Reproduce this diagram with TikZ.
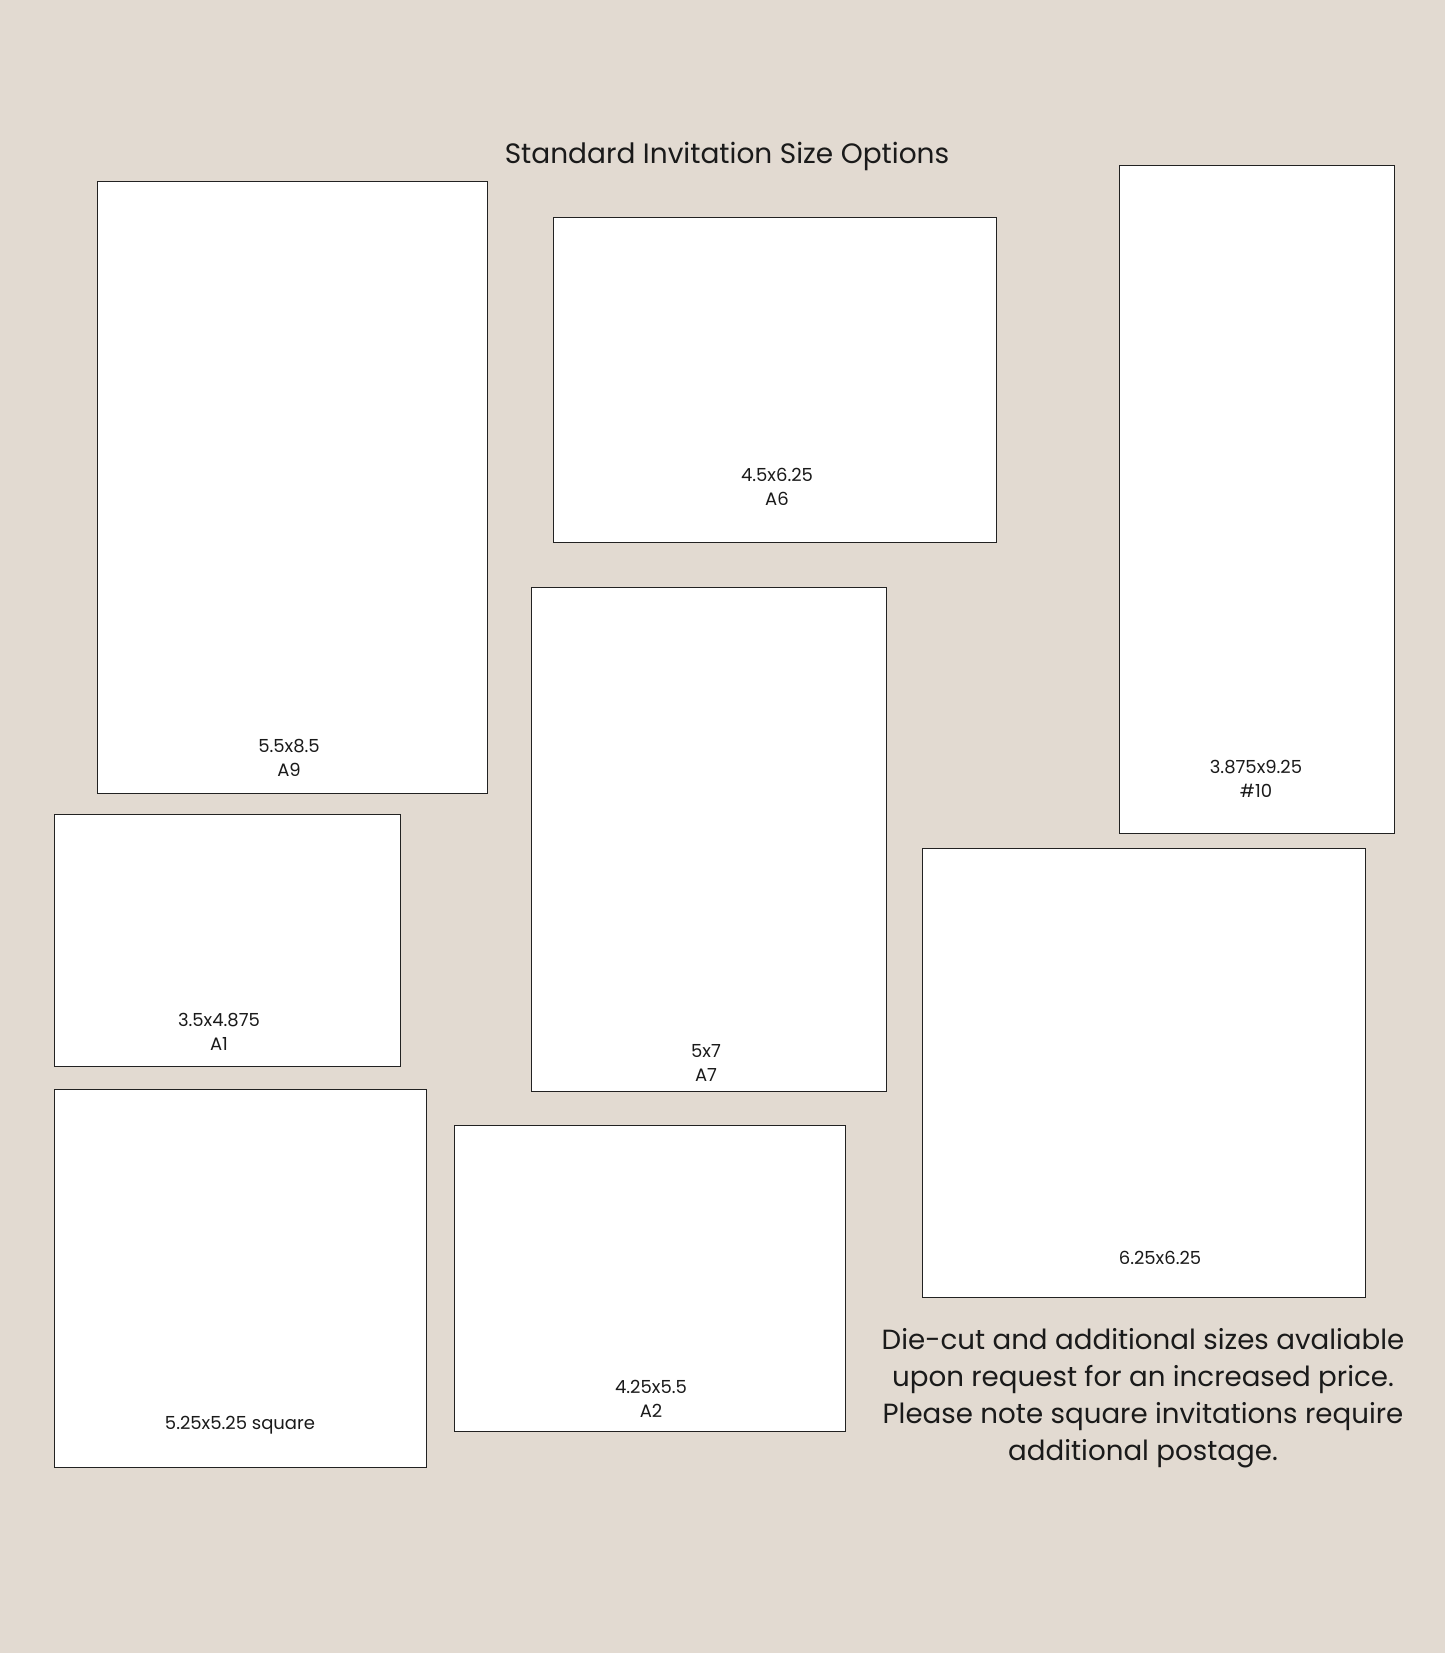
\documentclass[tikz,border=0pt]{standalone}
\usepackage{fontspec}
\setmainfont{Poppins}
\definecolor{bg}{HTML}{E2DAD1}
\definecolor{edge}{HTML}{222222}
\definecolor{ink}{HTML}{1A1A1A}
\begin{document}
\begin{tikzpicture}[x=1pt,y=-1pt,
  card/.style={draw=edge,fill=white,line width=1.4pt,inner sep=0pt,anchor=north west},
  lbl/.style={text=ink,font=\fontsize{18}{23.5}\selectfont,align=center,inner sep=0pt},
  ttl/.style={text=ink,font=\fontsize{28}{32}\selectfont,inner sep=0pt},
  para/.style={text=ink,font=\fontsize{27.7}{37}\selectfont,align=center,inner sep=0pt}]
\fill[bg] (0,0) rectangle (1445,1653);
\useasboundingbox (0,0) rectangle (1445,1653);
\node[ttl] (title) at (727,156) {Standard Invitation Size Options};
\node[card,minimum width=390pt,minimum height=612pt] (a9) at (97,181) {};
\node[card,minimum width=443pt,minimum height=325pt] (a6) at (553,217) {};
\node[card,minimum width=275pt,minimum height=668pt] (n10) at (1119,165) {};
\node[card,minimum width=346pt,minimum height=252pt] (a1) at (54,814) {};
\node[card,minimum width=355pt,minimum height=504pt] (a7) at (531,587) {};
\node[card,minimum width=443pt,minimum height=449pt] (s6) at (922,848) {};
\node[card,minimum width=372pt,minimum height=378pt] (s5) at (54,1089) {};
\node[card,minimum width=391pt,minimum height=306pt] (a2) at (454,1125) {};
\node[lbl] (la9) at (289,758) {5.5x8.5\\A9};
\node[lbl] (la6) at (777,487) {4.5x6.25\\A6};
\node[lbl] (ln10) at (1256,779) {3.875x9.25\\\#10};
\node[lbl] (la1) at (219,1032) {3.5x4.875\\A1};
\node[lbl] (la7) at (706,1063) {5x7\\A7};
\node[lbl] (ls6) at (1160,1258) {6.25x6.25};
\node[lbl] (ls5) at (240,1425) {5.25x5.25 square};
\node[lbl] (la2) at (651,1399) {4.25x5.5\\A2};
\node[para] (note) at (1143,1398) {Die-cut and additional sizes avaliable\\upon request for an increased price.\\Please note square invitations require\\additional postage.};
\end{tikzpicture}
\end{document}
